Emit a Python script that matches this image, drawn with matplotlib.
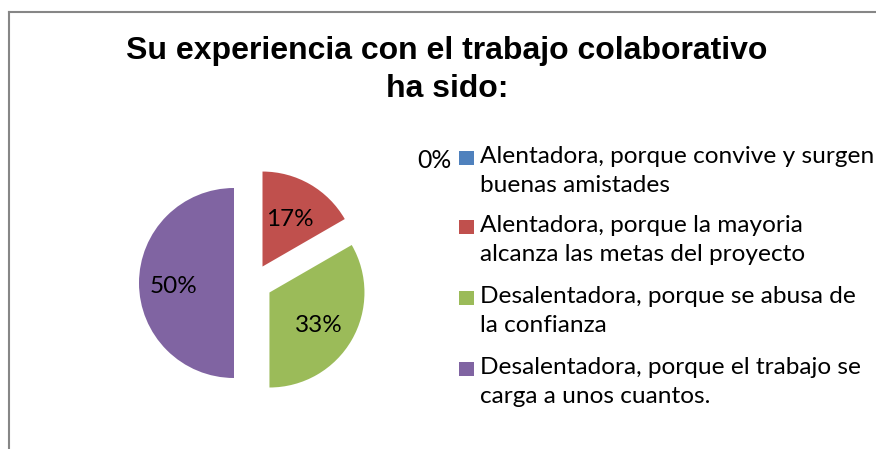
import matplotlib
matplotlib.use("Agg")
import matplotlib.pyplot as plt
from matplotlib.patches import Rectangle
from matplotlib.lines import Line2D
import math

categories = [
    "Alentadora, porque convive y surgen\nbuenas amistades",
    "Alentadora, porque la mayoria\nalcanza las metas del proyecto",
    "Desalentadora, porque se abusa de\nla confianza",
    "Desalentadora, porque el trabajo se\ncarga a unos cuantos.",
]
values = [0, 1, 2, 3]
colors = ["#4F81BD", "#C0504D", "#9BBB59", "#8064A2"]
title = "Su experiencia con el trabajo colaborativo\nha sido:"

W, H = 876, 449
fig = plt.figure(figsize=(W / 100, H / 100), dpi=100)
fig.patch.set_facecolor("white")

# pie axes covering whole figure, 1 data unit = radius pixels
R = 95.0
cx, cy = 253.0, 283.0
ax = fig.add_axes([0, 0, 1, 1])

total = sum(values)
ax.pie(values, colors=colors, startangle=90, counterclock=False,
       explode=[0.2] * 4, radius=1.0, center=(0, 0),
       wedgeprops=dict(linewidth=0), frame=True)
ax.set_xlim(-cx / R, (W - cx) / R)
ax.set_ylim(-(H - cy) / R, cy / R)
ax.axis("off")

# percentage labels
theta = 90.0
for v in values:
    frac = v / total
    ang = theta - frac * 360 / 2
    theta -= frac * 360
    if v == 0:
        continue
    a = math.radians(ang)
    ex = 0.2
    d = 0.62
    x = (ex + d) * math.cos(a)
    y = (ex + d) * math.sin(a)
    ax.text(x - 0.02, y - 0.02, f"{100 * frac:.0f}%", ha="center", va="center_baseline",
            fontsize=17.5, family="Lato", color="black")

# 0% label, outside next to legend
for v in values:
    if v == 0:
        fig.text(452 / W, 1 - 158 / H, f"{100 * v / total:.0f}%", ha="right",
                 va="center_baseline", fontsize=17.8, family="Lato", color="black")
        break

# title
fig.text(447 / W, 1 - 70 / H, title, ha="center", va="center", fontsize=23,
         fontweight="bold", family="Liberation Sans", linespacing=1.38)

# legend
ys = [158, 227, 298, 369]
for lab, col, y in zip(categories, colors, ys):
    fig.patches.append(Rectangle((459 / W, 1 - (y + 7) / H), 15 / W, 14 / H,
                                 transform=fig.transFigure, facecolor=col,
                                 edgecolor="none"))
    fig.text(480 / W, 1 - (y - 12) / H, lab, ha="left", va="top", fontsize=17.6,
             family="Lato", linespacing=1.48)

# chart border (left and top)
fig.add_artist(Line2D([8.5 / W, 8.5 / W], [0, 1 - 11.5 / H], transform=fig.transFigure,
                      color="#868686", linewidth=1.5))
fig.add_artist(Line2D([8.5 / W, 1], [1 - 11.5 / H, 1 - 11.5 / H], transform=fig.transFigure,
                      color="#868686", linewidth=1.5))

fig.savefig("out.png", dpi=100)
